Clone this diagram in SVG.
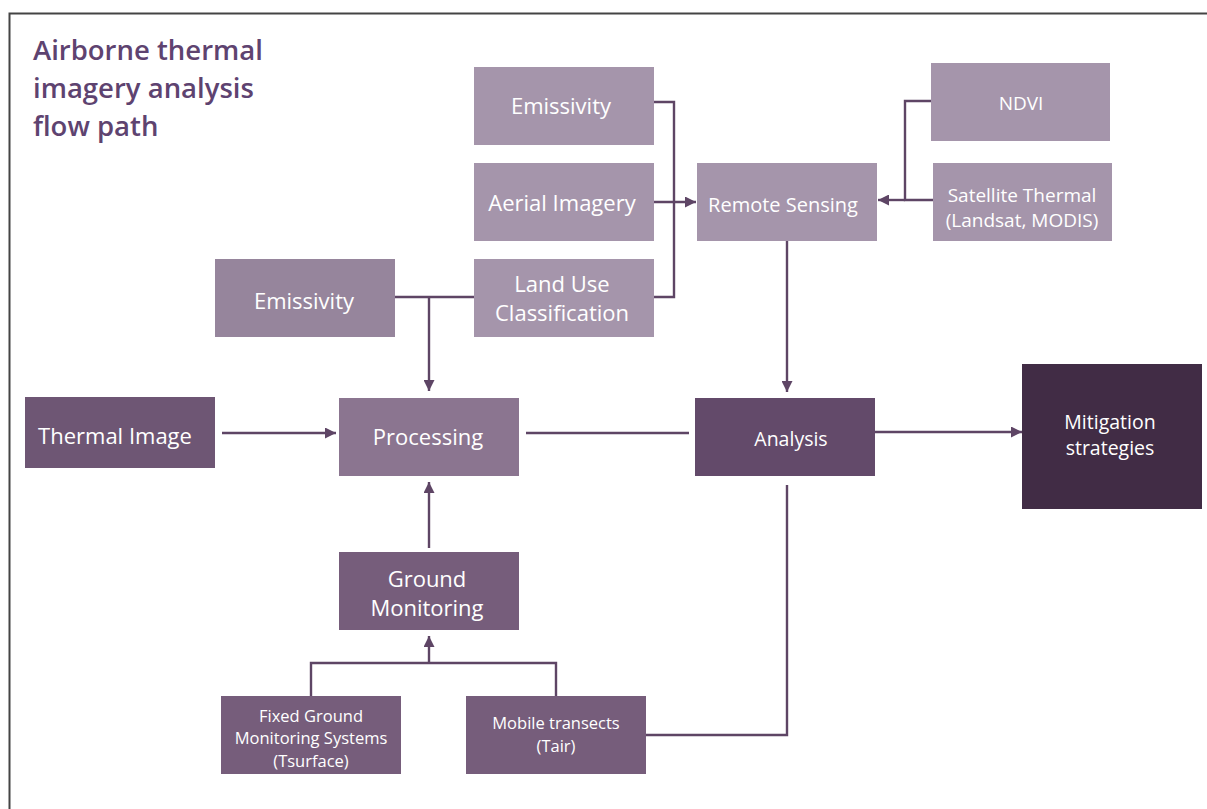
<svg xmlns="http://www.w3.org/2000/svg" width="1207" height="809" viewBox="0 0 1207 809">
<defs>
<marker id="ah" viewBox="0 0 10 10" refX="10" refY="5" markerWidth="11" markerHeight="11" markerUnits="userSpaceOnUse" orient="auto">
<path d="M0,0 L10,5 L0,10 Z" fill="#5e4565"/>
</marker>
<style>
text{font-family:"Open Sans","Noto Sans",sans-serif;fill:#fff;text-anchor:middle}
.t{fill:#5e4370;text-anchor:start;font-size:27.5px;font-weight:600}
.c{fill:none;stroke:#5e4565;stroke-width:2.4}
.l1{fill:#a595ab}
.l2{fill:#96859c}
.l3{fill:#8b7590}
.d1{fill:#6e5674}
.d2{fill:#765d7b}
.d3{fill:#634a6a}
.d4{fill:#412c45}
</style>
</defs>
<rect width="1207" height="809" fill="#fff"/>
<path d="M9.5,809 V13.5 H1207" fill="none" stroke="#444" stroke-width="2"/>
<g id="title">
<text class="t" x="33" y="60">Airborne thermal</text>
<text class="t" x="33" y="98">imagery analysis</text>
<text class="t" x="33" y="136">flow path</text>
</g>
<g id="connectors">
<path class="c" d="M654,102 H674 V297 H654"/>
<path class="c" d="M654,202 H696" marker-end="url(#ah)"/>
<path class="c" d="M931,101 H905 V200 H933"/>
<path class="c" d="M905,200 H878" marker-end="url(#ah)"/>
<path class="c" d="M787,241 V392" marker-end="url(#ah)"/>
<path class="c" d="M395,297 H474"/>
<path class="c" d="M429,297 V391" marker-end="url(#ah)"/>
<path class="c" d="M222,433 H336" marker-end="url(#ah)"/>
<path class="c" d="M526,433 H689"/>
<path class="c" d="M875,432 H1022" marker-end="url(#ah)"/>
<path class="c" d="M429,548 V482" marker-end="url(#ah)"/>
<path class="c" d="M311,696 V663 H556 V696"/>
<path class="c" d="M429,663 V636" marker-end="url(#ah)"/>
<path class="c" d="M787,485 V735 H646"/>
</g>
<g id="emissivity-top"><rect class="l1" x="474" y="67" width="180" height="78"/><text x="561" y="114" font-size="22">Emissivity</text></g>
<g id="aerial-imagery"><rect class="l1" x="474" y="163" width="180" height="78"/><text x="562" y="211" font-size="22">Aerial Imagery</text></g>
<g id="land-use"><rect class="l1" x="474" y="259" width="180" height="78"/><text x="562" y="292" font-size="22">Land Use</text><text x="562" y="321" font-size="22">Classification</text></g>
<g id="remote-sensing"><rect class="l1" x="697" y="163" width="180" height="78"/><text x="783" y="212" font-size="20">Remote Sensing</text></g>
<g id="ndvi"><rect class="l1" x="931" y="63" width="179" height="78"/><text x="1021" y="110" font-size="19">NDVI</text></g>
<g id="satellite-thermal"><rect class="l1" x="933" y="163" width="179" height="78"/><text x="1022" y="202" font-size="19">Satellite Thermal</text><text x="1022" y="227" font-size="19">(Landsat, MODIS)</text></g>
<g id="emissivity-left"><rect class="l2" x="215" y="259" width="180" height="78"/><text x="304" y="309" font-size="22">Emissivity</text></g>
<g id="thermal-image"><rect class="d1" x="25" y="397" width="190" height="71"/><text x="115" y="444" font-size="22">Thermal Image</text></g>
<g id="processing"><rect class="l3" x="339" y="398" width="180" height="78"/><text x="428" y="445" font-size="22">Processing</text></g>
<g id="analysis"><rect class="d3" x="695" y="398" width="180" height="78"/><text x="791" y="446" font-size="19.5">Analysis</text></g>
<g id="mitigation"><rect class="d4" x="1022" y="364" width="180" height="145"/><text x="1110" y="429" font-size="19.5">Mitigation</text><text x="1110" y="455" font-size="19.5">strategies</text></g>
<g id="ground-monitoring"><rect class="d2" x="339" y="552" width="180" height="78"/><text x="427" y="587" font-size="22">Ground</text><text x="427" y="616" font-size="22">Monitoring</text></g>
<g id="fixed-ground"><rect class="d2" x="221" y="696" width="180" height="78"/><text x="311" y="722" font-size="16.5">Fixed Ground</text><text x="311" y="744" font-size="16.5">Monitoring Systems</text><text x="311" y="767" font-size="16.5">(Tsurface)</text></g>
<g id="mobile-transects"><rect class="d2" x="466" y="696" width="180" height="78"/><text x="556" y="729" font-size="16.5">Mobile transects</text><text x="556" y="752" font-size="16.5">(Tair)</text></g>
</svg>
